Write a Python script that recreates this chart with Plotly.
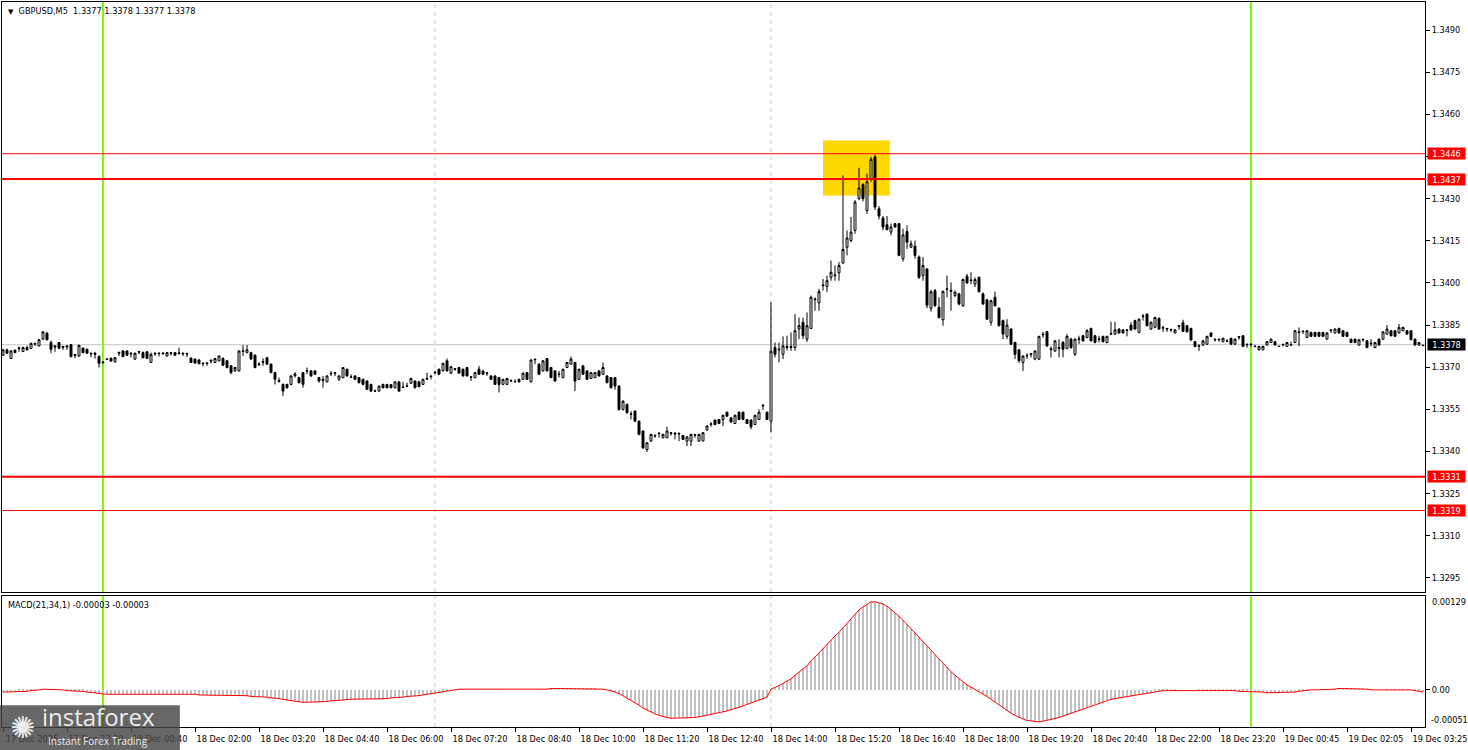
import plotly.graph_objects as go

# ---------------- data (prices in pips above 1.3300, one 5-minute bar per index) ----------------
BASE = 1.3300

opens_pips = [
    74.3, 76.2, 73.1, 76.0, 76.6, 75.6, 77.0, 76.7, 78.5, 77.6,
    80.0, 82.1, 78.8, 77.6, 78.8, 77.4, 77.2, 78.0, 74.5, 74.0,
    76.8, 76.4, 75.0, 75.0, 73.8, 71.6, 72.8, 73.2, 71.9, 75.3,
    75.8, 75.8, 75.0, 72.9, 75.6, 75.2, 75.5, 71.7, 75.0, 75.0,
    75.1, 74.0, 75.2, 75.2, 75.1, 75.0, 74.9, 73.2, 72.9, 72.6,
    71.5, 71.5, 72.5, 71.7, 72.3, 73.1, 72.3, 70.5, 68.7, 68.7,
    75.6, 75.2, 75.2, 74.3, 70.9, 72.0, 73.4, 71.1, 68.1, 65.3,
    63.9, 63.9, 63.9, 67.0, 66.3, 68.1, 68.6, 68.7, 68.7, 66.3,
    65.7, 64.8, 67.6, 68.1, 65.7, 66.3, 69.3, 66.4, 66.9, 66.3,
    65.7, 65.1, 63.9, 61.4, 61.5, 63.9, 63.9, 63.8, 62.7, 64.8,
    62.8, 63.2, 64.3, 65.1, 64.8, 63.9, 66.0, 66.9, 68.0, 69.3,
    68.7, 72.3, 67.9, 69.5, 69.9, 69.3, 69.9, 66.6, 66.3, 69.3,
    68.7, 68.1, 66.9, 66.9, 66.3, 63.9, 63.9, 65.1, 64.8, 65.7,
    65.7, 68.1, 64.8, 72.9, 71.1, 68.7, 73.1, 69.9, 68.7, 67.6,
    66.3, 69.9, 71.1, 71.7, 65.7, 70.5, 68.7, 66.0, 66.3, 68.7,
    67.5, 66.9, 66.3, 66.3, 63.3, 55.0, 56.8, 53.2, 54.4, 50.8,
    47.3, 40.7, 43.7, 45.5, 46.6, 44.9, 44.9, 46.7, 46.6, 46.5,
    45.7, 43.7, 43.7, 45.8, 43.7, 43.8, 47.6, 49.6, 51.2, 51.4,
    51.4, 54.0, 52.0, 50.0, 54.0, 54.0, 51.4, 51.2, 49.6, 51.4,
    56.5, 54.0, 50.8, 77.0, 76.2, 74.6, 77.0, 77.0, 77.0, 83.6,
    86.0, 80.0, 83.8, 94.0, 92.9, 99.0, 98.8, 102.0, 102.6, 103.6,
    107.1, 112.7, 115.1, 118.7, 130.0, 135.0, 125.8, 137.1, 144.9, 126.4,
    123.1, 120.7, 118.1, 121.1, 121.1, 108.6, 118.3, 112.7, 113.1, 109.2,
    102.6, 105.0, 91.0, 97.3, 91.3, 86.9, 97.7, 97.4, 95.5, 96.1,
    91.9, 102.4, 100.8, 99.6, 102.0, 96.1, 94.0, 86.0, 94.9, 91.0,
    86.6, 81.0, 83.6, 78.8, 76.2, 71.7, 74.0, 74.9, 72.9, 72.9,
    81.5, 82.6, 76.6, 75.8, 77.0, 78.8, 76.7, 80.0, 74.6, 79.9,
    81.2, 80.6, 83.8, 81.2, 79.9, 81.0, 78.8, 82.0, 81.8, 83.6,
    83.3, 83.3, 85.0, 86.6, 82.4, 88.0, 88.9, 83.6, 84.2, 87.4,
    83.9, 83.8, 83.5, 82.2, 84.8, 85.8, 84.8, 83.8, 79.1, 77.4,
    77.9, 78.2, 82.2, 80.0, 80.0, 79.1, 79.2, 80.3, 78.2, 80.9,
    81.2, 78.2, 78.0, 77.3, 76.2, 76.2, 77.9, 78.8, 79.1, 77.5,
    78.2, 77.4, 77.9, 78.8, 82.6, 82.9, 80.6, 82.4, 82.4, 82.4,
    82.4, 80.0, 83.3, 82.2, 83.8, 83.0, 82.4, 80.0, 80.0, 77.9,
    80.0, 79.4, 78.6, 77.0, 80.0, 80.0, 81.8, 83.0, 83.0, 82.2,
    83.0, 83.0, 83.0, 80.0, 77.9, 77.7,
]

highs_pips = [
    76.5, 76.6, 76.0, 76.4, 77.4, 77.3, 77.6, 78.8, 78.6, 80.0,
    82.9, 82.6, 79.5, 77.8, 79.0, 77.6, 77.9, 78.3, 74.6, 78.0,
    77.0, 76.6, 75.2, 75.5, 74.2, 72.2, 73.0, 73.4, 73.6, 75.5,
    76.0, 76.0, 75.3, 75.2, 75.8, 75.6, 75.8, 75.2, 75.3, 75.3,
    75.2, 75.4, 75.4, 75.4, 77.0, 75.2, 75.2, 73.6, 73.1, 72.8,
    71.6, 71.8, 72.8, 73.3, 74.2, 73.6, 72.6, 70.8, 70.1, 76.0,
    77.9, 77.9, 75.5, 74.6, 71.8, 73.2, 73.6, 71.3, 68.4, 66.3,
    64.2, 64.1, 67.2, 68.3, 66.6, 68.3, 69.9, 69.0, 68.9, 66.6,
    66.9, 67.1, 68.7, 68.2, 67.1, 70.1, 69.5, 67.5, 67.1, 66.5,
    65.9, 65.3, 64.1, 62.1, 63.5, 64.1, 64.0, 64.0, 65.0, 65.0,
    64.8, 64.5, 66.2, 65.3, 65.0, 65.9, 68.1, 67.0, 68.7, 69.5,
    71.6, 73.1, 70.4, 69.6, 70.1, 69.5, 70.1, 66.9, 68.3, 70.5,
    68.9, 68.2, 67.1, 67.1, 66.5, 65.9, 66.2, 65.7, 65.7, 65.9,
    68.1, 68.3, 72.8, 73.0, 71.3, 72.5, 73.3, 70.1, 68.9, 68.7,
    69.5, 71.9, 73.8, 71.9, 69.5, 70.7, 68.9, 68.3, 68.3, 68.9,
    71.7, 67.1, 66.5, 66.5, 63.5, 58.3, 57.0, 54.4, 54.6, 51.0,
    47.5, 43.3, 46.3, 46.1, 46.7, 46.3, 48.8, 46.9, 46.8, 46.7,
    45.9, 45.4, 46.3, 46.3, 46.3, 46.9, 49.3, 50.5, 51.4, 51.6,
    53.1, 54.2, 52.2, 53.1, 54.2, 54.2, 51.6, 51.4, 53.1, 55.0,
    56.8, 54.2, 93.2, 78.8, 78.8, 81.0, 81.2, 82.4, 88.9, 87.7,
    87.7, 89.5, 95.5, 94.9, 97.9, 101.4, 102.6, 108.0, 106.2, 107.4,
    138.3, 118.7, 123.5, 129.5, 141.0, 135.5, 138.9, 144.9, 145.7, 127.4,
    123.8, 123.8, 121.1, 121.3, 121.3, 119.3, 120.5, 115.1, 115.1, 109.8,
    109.2, 105.2, 97.5, 97.9, 94.9, 97.3, 102.6, 100.2, 97.3, 96.5,
    101.6, 103.2, 103.8, 102.0, 102.3, 96.7, 94.3, 94.0, 96.9, 91.3,
    87.0, 87.1, 83.9, 79.1, 76.5, 74.3, 75.0, 75.0, 76.0, 81.2,
    82.6, 82.9, 77.4, 79.7, 80.0, 79.4, 81.8, 80.5, 80.3, 81.2,
    81.5, 83.6, 84.1, 81.5, 81.2, 81.2, 81.2, 86.2, 86.2, 83.8,
    83.5, 83.5, 86.0, 86.9, 87.4, 88.9, 89.2, 86.3, 88.0, 87.7,
    84.8, 84.0, 83.6, 83.5, 85.0, 86.9, 85.0, 84.1, 79.3, 78.2,
    79.7, 81.2, 82.4, 80.1, 80.1, 80.5, 80.0, 80.5, 80.2, 81.0,
    81.4, 78.4, 78.4, 78.0, 77.6, 77.6, 79.3, 80.2, 79.3, 77.6,
    78.3, 79.0, 79.1, 83.2, 84.2, 83.0, 83.2, 82.6, 82.6, 82.6,
    82.6, 82.4, 83.4, 83.8, 84.1, 83.2, 82.6, 80.2, 80.2, 80.0,
    80.1, 79.6, 80.0, 79.0, 80.2, 82.8, 85.0, 83.2, 83.2, 85.4,
    84.4, 83.2, 83.2, 80.2, 79.0, 77.8,
]

lows_pips = [
    74.0, 74.8, 73.0, 75.0, 75.5, 75.4, 75.8, 76.5, 77.6, 77.4,
    79.8, 79.5, 75.0, 75.5, 76.5, 76.2, 76.2, 73.5, 73.2, 73.8,
    75.0, 74.8, 73.6, 73.0, 69.9, 71.3, 72.6, 72.0, 71.7, 74.0,
    73.6, 74.0, 73.5, 72.6, 74.6, 73.2, 73.0, 71.5, 74.0, 73.8,
    74.3, 73.8, 74.2, 74.0, 74.5, 74.0, 73.6, 71.5, 71.2, 71.0,
    70.3, 70.5, 71.4, 71.5, 72.1, 70.5, 69.6, 67.5, 68.4, 68.5,
    74.0, 75.0, 72.6, 69.6, 70.5, 70.5, 70.9, 67.9, 63.9, 64.5,
    59.8, 62.4, 63.6, 66.3, 64.2, 62.7, 67.5, 66.6, 67.2, 64.5,
    62.7, 64.6, 66.9, 66.9, 65.1, 66.1, 66.7, 66.3, 65.5, 64.3,
    63.6, 61.9, 61.2, 61.3, 61.3, 62.5, 62.5, 62.5, 62.5, 61.3,
    62.7, 63.1, 64.1, 62.5, 62.9, 63.7, 65.5, 65.7, 67.5, 67.3,
    68.5, 68.5, 67.7, 68.7, 67.7, 66.7, 66.7, 65.1, 66.1, 67.3,
    67.3, 66.9, 65.5, 63.7, 61.0, 63.7, 63.7, 65.0, 64.7, 64.6,
    65.5, 65.5, 64.6, 71.1, 67.3, 68.5, 68.5, 66.1, 64.9, 66.3,
    66.1, 69.7, 70.9, 61.5, 65.5, 67.3, 65.5, 65.8, 66.1, 66.7,
    67.3, 64.3, 62.5, 62.0, 54.5, 54.6, 53.5, 51.4, 50.5, 45.8,
    41.0, 39.8, 43.5, 44.9, 44.9, 44.7, 44.7, 45.7, 44.3, 43.7,
    44.1, 41.9, 41.9, 44.9, 43.5, 43.6, 47.4, 48.8, 49.4, 49.8,
    49.0, 52.4, 50.3, 49.8, 51.2, 51.2, 49.8, 47.9, 49.4, 51.2,
    54.8, 51.2, 46.8, 73.5, 71.7, 72.9, 76.0, 75.8, 75.8, 80.0,
    80.0, 79.0, 83.6, 90.1, 90.1, 97.3, 96.7, 100.8, 100.8, 100.8,
    106.8, 109.8, 114.5, 117.5, 129.5, 129.0, 124.6, 136.0, 126.0, 122.6,
    118.7, 118.7, 116.9, 119.7, 109.5, 107.6, 112.1, 112.5, 108.6, 101.4,
    100.8, 91.0, 89.8, 91.5, 87.3, 84.8, 94.9, 90.1, 95.0, 92.0,
    91.5, 99.7, 99.6, 98.5, 96.6, 92.2, 86.8, 84.8, 91.6, 84.5,
    80.0, 80.0, 77.9, 72.9, 71.5, 68.7, 72.9, 73.5, 72.5, 72.6,
    80.5, 77.3, 73.5, 75.5, 73.5, 73.5, 76.4, 76.6, 74.0, 78.3,
    79.1, 80.3, 79.1, 78.5, 78.8, 78.8, 78.5, 81.5, 81.5, 82.0,
    82.0, 81.0, 83.0, 83.3, 82.1, 86.6, 84.5, 83.3, 83.9, 83.3,
    82.6, 82.6, 82.6, 82.0, 83.3, 82.5, 82.4, 79.4, 77.1, 75.8,
    77.6, 77.9, 80.8, 79.1, 79.1, 78.9, 79.0, 78.0, 78.0, 79.8,
    77.2, 77.0, 77.4, 77.2, 76.0, 76.0, 77.7, 78.6, 77.7, 77.3,
    77.4, 77.2, 77.8, 78.6, 77.4, 81.8, 80.4, 80.8, 80.8, 80.8,
    80.8, 79.8, 82.2, 82.0, 82.0, 80.8, 80.8, 78.6, 78.6, 77.7,
    79.1, 76.8, 77.4, 76.8, 77.7, 79.8, 81.6, 81.0, 80.8, 82.0,
    82.8, 81.6, 79.6, 77.7, 77.7, 77.7,
]

closes_pips = [
    76.2, 75.0, 75.8, 75.2, 76.8, 77.0, 76.3, 78.5, 78.3, 79.8,
    82.6, 79.8, 76.4, 77.2, 76.7, 77.0, 77.5, 73.8, 74.2, 77.8,
    75.2, 75.0, 74.8, 74.6, 71.4, 71.8, 72.9, 72.2, 73.4, 75.0,
    73.8, 74.3, 74.8, 75.0, 75.4, 73.4, 73.1, 74.6, 74.8, 74.9,
    74.9, 75.2, 75.0, 74.3, 74.9, 74.8, 74.7, 71.7, 71.5, 71.3,
    71.3, 71.3, 72.2, 73.1, 74.0, 70.7, 69.9, 68.1, 69.9, 75.8,
    75.8, 76.2, 72.9, 69.9, 71.1, 71.8, 71.1, 68.1, 65.7, 65.0,
    61.5, 62.7, 66.9, 67.6, 64.5, 63.9, 68.8, 66.9, 67.5, 65.1,
    65.4, 66.9, 67.8, 67.9, 66.9, 69.9, 66.9, 66.5, 65.7, 64.5,
    63.9, 62.1, 61.5, 61.5, 63.3, 62.7, 62.7, 62.7, 64.8, 61.5,
    62.9, 63.3, 66.0, 62.7, 63.1, 65.7, 65.8, 66.7, 68.2, 67.5,
    71.4, 68.7, 70.2, 69.3, 67.9, 66.9, 66.9, 66.4, 68.1, 67.5,
    67.5, 67.9, 65.7, 63.9, 63.9, 65.7, 66.0, 65.2, 64.9, 64.8,
    67.9, 65.7, 72.6, 72.7, 67.5, 72.3, 68.7, 66.3, 65.1, 67.4,
    69.3, 71.7, 72.9, 65.1, 69.3, 67.5, 65.7, 68.1, 68.1, 66.9,
    69.9, 64.5, 62.7, 63.3, 55.0, 57.9, 53.8, 53.4, 50.8, 46.1,
    41.3, 43.1, 46.1, 45.7, 46.4, 46.1, 47.3, 46.5, 46.3, 46.3,
    44.3, 45.2, 46.1, 46.0, 46.1, 46.7, 49.1, 49.8, 49.6, 50.0,
    52.9, 52.6, 50.5, 52.9, 51.4, 51.4, 50.0, 48.8, 52.9, 54.0,
    56.3, 51.4, 75.7, 74.6, 76.4, 77.6, 77.4, 77.3, 83.0, 84.8,
    81.2, 84.8, 94.9, 94.2, 96.9, 99.2, 100.8, 103.8, 102.8, 106.2,
    111.9, 116.0, 118.1, 128.8, 133.8, 130.0, 136.0, 144.0, 127.0, 123.8,
    119.9, 119.0, 119.9, 119.9, 109.8, 117.1, 114.5, 113.9, 109.8, 102.0,
    106.2, 92.1, 96.9, 91.9, 87.7, 97.0, 97.9, 97.1, 96.7, 92.5,
    101.2, 100.0, 101.0, 101.2, 96.9, 92.5, 87.1, 93.7, 91.9, 84.8,
    81.8, 85.0, 78.2, 74.6, 72.3, 74.0, 74.2, 74.6, 75.8, 81.0,
    81.7, 77.6, 76.3, 79.4, 76.7, 76.4, 81.0, 77.0, 80.0, 80.1,
    79.4, 83.0, 79.4, 78.8, 80.1, 79.1, 81.0, 81.8, 83.3, 82.2,
    82.2, 83.1, 83.3, 83.6, 87.1, 88.2, 84.8, 86.0, 87.7, 83.6,
    84.1, 83.6, 83.3, 83.3, 84.6, 82.8, 82.6, 79.7, 77.4, 77.6,
    79.4, 81.0, 81.0, 79.8, 79.8, 80.3, 79.3, 78.2, 80.0, 80.7,
    77.4, 78.0, 78.2, 77.4, 77.4, 77.4, 79.1, 80.0, 77.9, 77.4,
    78.0, 78.8, 78.0, 83.0, 82.4, 82.7, 83.0, 81.0, 81.0, 81.0,
    81.0, 82.2, 83.1, 83.6, 82.2, 81.0, 81.0, 78.8, 78.8, 79.8,
    79.8, 77.0, 78.4, 78.8, 77.9, 82.6, 83.6, 81.2, 81.0, 84.2,
    84.2, 81.8, 79.8, 77.9, 78.8, 77.8,
]

# MACD(21,34,1) histogram, in units of 0.00001
macd_e5 = [
    -3, -3, -3, -3, -2, -2, -2, -1, -1, 0,
    1, 1, 1, 0, 0, 0, -1, -1, -2, -2,
    -2, -3, -3, -4, -5, -6, -6, -6, -6, -5,
    -5, -5, -5, -5, -5, -5, -5, -5, -5, -5,
    -5, -5, -5, -5, -5, -6, -6, -6, -6, -7,
    -7, -7, -8, -8, -8, -8, -8, -8, -8, -8,
    -8, -8, -9, -9, -10, -10, -10, -11, -11, -12,
    -13, -14, -15, -16, -17, -17, -17, -17, -17, -16,
    -16, -16, -15, -15, -14, -14, -13, -13, -13, -13,
    -13, -13, -13, -13, -12, -12, -12, -11, -11, -10,
    -10, -9, -9, -8, -8, -7, -6, -5, -4, -3,
    -2, -1, 0, 0, 1, 1, 1, 1, 1, 1,
    1, 1, 1, 1, 1, 0, 0, 0, 0, 0,
    0, 0, 0, 0, 1, 1, 1, 2, 2, 2,
    2, 2, 2, 2, 2, 2, 2, 2, 2, 1,
    1, 0, -1, -3, -5, -8, -11, -14, -17, -21,
    -25, -28, -31, -33, -35, -37, -38, -39, -39, -39,
    -39, -39, -38, -38, -37, -36, -35, -34, -33, -32,
    -30, -29, -27, -26, -24, -22, -20, -18, -16, -14,
    -12, -10, 1, 3, 6, 9, 12, 15, 20, 25,
    29, 33, 40, 45, 51, 57, 63, 69, 74, 79,
    85, 91, 97, 104, 110, 114, 118, 121, 121, 120,
    118, 115, 111, 106, 101, 96, 90, 84, 78, 72,
    66, 60, 54, 48, 42, 36, 30, 25, 20, 15,
    11, 7, 4, 1, -2, -5, -9, -13, -17, -21,
    -25, -29, -32, -35, -38, -40, -42, -43, -44, -44,
    -43, -42, -41, -40, -38, -36, -34, -32, -30, -28,
    -26, -24, -22, -20, -18, -16, -14, -13, -12, -11,
    -10, -9, -8, -7, -6, -5, -4, -3, -2, -2,
    -1, -1, -1, -1, 0, 0, 0, 0, 0, -1,
    -1, -1, -1, -1, -1, -1, -1, -1, -1, -2,
    -2, -2, -2, -3, -3, -3, -4, -4, -4, -4,
    -4, -3, -3, -3, -2, -1, -1, 0, 0, 0,
    1, 1, 1, 1, 2, 2, 2, 2, 1, 1,
    1, 1, 0, 0, 0, 0, 1, 1, 1, 1,
    1, 1, 0, -1, -2, -3,
]

# time-axis labels (bar index -> label)
tick_bars = [0, 16, 32, 48, 64, 80, 96, 112, 128, 144, 160, 176, 192, 208, 224,
             240, 256, 272, 288, 304, 320, 336, 352]
tick_labels = ["17 Dec 2025", "17 Dec 23:20", "18 Dec 00:40", "18 Dec 02:00", "18 Dec 03:20",
               "18 Dec 04:40", "18 Dec 06:00", "18 Dec 07:20", "18 Dec 08:40", "18 Dec 10:00",
               "18 Dec 11:20", "18 Dec 12:40", "18 Dec 14:00", "18 Dec 15:20", "18 Dec 16:40",
               "18 Dec 18:00", "18 Dec 19:20", "18 Dec 20:40", "18 Dec 22:00", "18 Dec 23:20",
               "19 Dec 00:45", "19 Dec 02:05", "19 Dec 03:25"]

price_ticks = [1.3490, 1.3475, 1.3460, 1.3445, 1.3430, 1.3415, 1.3400, 1.3385, 1.3370,
               1.3355, 1.3340, 1.3325, 1.3310, 1.3295]
# the 1.3445 label sits under the 1.3446 level box in the reference
price_tick_text = ["1.3490", "1.3475", "1.3460", "", "1.3430", "1.3415", "1.3400", "1.3385",
                   "1.3370", "1.3355", "1.3340", "1.3325", "1.3310", "1.3295"]

levels = [1.3446, 1.3437, 1.3331, 1.3319]
level_widths = [1, 2, 2, 1]
current_price = 1.3378
day_separators = [25, 312]          # bar index of the green day lines
session_lines = [108, 192]          # bar index of dashed session lines
signal_box = dict(bar0=205.0, bar1=221.7, p0=1.34311, p1=1.34507)

# ---------------- figure ----------------
n = len(closes_pips)
bars = list(range(n))
to_price = lambda arr: [round(BASE + v / 10000.0, 5) for v in arr]
opens, highs, lows, closes = map(to_price, (opens_pips, highs_pips, lows_pips, closes_pips))
macd = [v * 1e-5 for v in macd_e5]

FONT = "DejaVu Sans, Verdana, sans-serif"
FS = 8.2

fig = go.Figure()
fig.add_trace(go.Candlestick(
    x=bars, open=opens, high=highs, low=lows, close=closes,
    xaxis="x", yaxis="y",
    increasing=dict(fillcolor="white", line=dict(color="black", width=1)),
    decreasing=dict(fillcolor="black", line=dict(color="black", width=1)),
    whiskerwidth=0, hoverinfo="skip", showlegend=False,
))
fig.add_trace(go.Bar(
    x=bars, y=macd, xaxis="x2", yaxis="y2", width=0.5,
    marker=dict(color="#C0C0C0", line=dict(width=0)), hoverinfo="skip", showlegend=False,
))
fig.add_trace(go.Scatter(
    x=bars, y=macd, xaxis="x2", yaxis="y2", mode="lines",
    line=dict(color="red", width=1), hoverinfo="skip", showlegend=False,
))

shapes = []
shapes.append(dict(type="rect", xref="x", yref="y", x0=signal_box["bar0"], x1=signal_box["bar1"],
                   y0=signal_box["p0"], y1=signal_box["p1"], fillcolor="#FFD700",
                   line=dict(width=0), layer="below"))
shapes.append(dict(type="line", xref="x domain", yref="y", x0=0, x1=1, y0=current_price,
                   y1=current_price, line=dict(color="#C0C0C0", width=1), layer="below"))
for yref in ("y domain", "y2 domain"):
    for b in session_lines:
        shapes.append(dict(type="line", xref="x", yref=yref, x0=b, x1=b, y0=0, y1=1,
                           line=dict(color="#B4D890", width=1, dash="4px,4px"), layer="below"))
    for b in day_separators:
        shapes.append(dict(type="line", xref="x", yref=yref, x0=b, x1=b, y0=0, y1=1,
                           line=dict(color="#7CFC00", width=2), layer="below"))
for lv, w in zip(levels, level_widths):
    shapes.append(dict(type="line", xref="x domain", yref="y", x0=0, x1=1, y0=lv, y1=lv,
                       line=dict(color="#FF0000", width=w), layer="above"))

# watermark box
shapes.append(dict(type="rect", xref="paper", yref="paper", x0=-0.0014, x1=0.125,
                   y0=-0.032, y1=0.030, fillcolor="rgba(70,70,70,0.82)", line=dict(width=0),
                   layer="above"))

annotations = []
for lv in levels:
    annotations.append(dict(xref="paper", yref="y", x=1, y=lv, xanchor="left", yanchor="middle",
                            xshift=2, text=f"{lv:.4f}", showarrow=False, bgcolor="#FF0000",
                            width=37, height=11, borderpad=0, align="center",
                            font=dict(family=FONT, size=FS, color="white")))
annotations.append(dict(xref="paper", yref="y", x=1, y=current_price, xanchor="left",
                        yanchor="middle", xshift=2, text=f"{current_price:.4f}", showarrow=False,
                        bgcolor="black", width=37, height=11, borderpad=0, align="center",
                        font=dict(family=FONT, size=FS, color="white")))
annotations.append(dict(xref="paper", yref="paper", x=0, y=1, xanchor="left", yanchor="top",
                        xshift=4, yshift=-2,
                        text="<span style='font-size:7px'>▼</span>\u00a0 GBPUSD,M5\u00a0\u00a0"
                             "1.3377 1.3378 1.3377 1.3378",
                        showarrow=False, font=dict(family=FONT, size=FS, color="black")))
annotations.append(dict(xref="paper", yref="paper", x=0, y=0.1807, xanchor="left",
                        yanchor="top", xshift=4, yshift=-2,
                        text="MACD(21,34,1) -0.00003 -0.00003", showarrow=False,
                        font=dict(family=FONT, size=FS, color="black")))
annotations.append(dict(xref="paper", yref="y2", x=1, y=0.00129, xanchor="left", yanchor="top",
                        xshift=5, yshift=1, text="0.00129", showarrow=False,
                        font=dict(family=FONT, size=FS, color="black")))
annotations.append(dict(xref="paper", yref="y2", x=1, y=-0.00051, xanchor="left",
                        yanchor="bottom", xshift=4, yshift=0, text="-0.00051", showarrow=False,
                        font=dict(family=FONT, size=FS, color="black")))
# watermark text
annotations.append(dict(xref="paper", yref="paper", x=0.004, y=-0.001, xanchor="left",
                        yanchor="middle", text="✺", showarrow=False,
                        font=dict(family="DejaVu Sans", size=30, color="rgba(255,255,255,0.9)")))
annotations.append(dict(xref="paper", yref="paper", x=0.027, y=0.015, xanchor="left",
                        yanchor="middle", text="instaforex", showarrow=False,
                        font=dict(family="Open Sans", size=24, color="rgba(255,255,255,0.9)")))
annotations.append(dict(xref="paper", yref="paper", x=0.031, y=-0.019, xanchor="left",
                        yanchor="middle", text="Instant Forex Trading", showarrow=False,
                        font=dict(family="Open Sans", size=10, color="rgba(255,255,255,0.9)")))

axis_common = dict(showgrid=False, zeroline=False, showline=True, mirror=True,
                   linecolor="black", linewidth=1, automargin=False)

fig.update_layout(
    width=1468, height=750,
    margin=dict(l=2, r=43, t=2, b=23, autoexpand=False),
    paper_bgcolor="white", plot_bgcolor="white",
    showlegend=False, bargap=0,
    shapes=shapes, annotations=annotations,
    xaxis=dict(domain=[0, 1], anchor="y", range=[-0.25, 355.5], showticklabels=False,
               ticks="", rangeslider=dict(visible=False), **axis_common),
    xaxis2=dict(domain=[0, 1], anchor="y2", matches="x", range=[-0.25, 355.5],
                tickmode="array", tickvals=tick_bars, ticktext=tick_labels, tickangle=0,
                ticks="outside", ticklen=4, tickcolor="black", ticklabelshift=29,
                ticklabelstandoff=0,
                tickfont=dict(family=FONT, size=FS, color="black"), **axis_common),
    yaxis=dict(domain=[0.1862, 1], anchor="x", side="right", range=[1.3290, 1.3500],
               tickmode="array", tickvals=price_ticks, ticktext=price_tick_text,
               ticks="outside", ticklen=4, tickcolor="black",
               tickfont=dict(family=FONT, size=FS, color="black"), **axis_common),
    yaxis2=dict(domain=[0, 0.1807], anchor="x2", side="right", range=[-0.00051, 0.00129],
                tickmode="array", tickvals=[0], ticktext=["0.00"], ticks="outside", ticklen=4,
                tickcolor="black", tickfont=dict(family=FONT, size=FS, color="black"),
                **axis_common),
)

fig.write_html("out.html", config={"displayModeBar": False},
               post_script="document.body.style.margin='0px';document.body.style.overflow='hidden';")
